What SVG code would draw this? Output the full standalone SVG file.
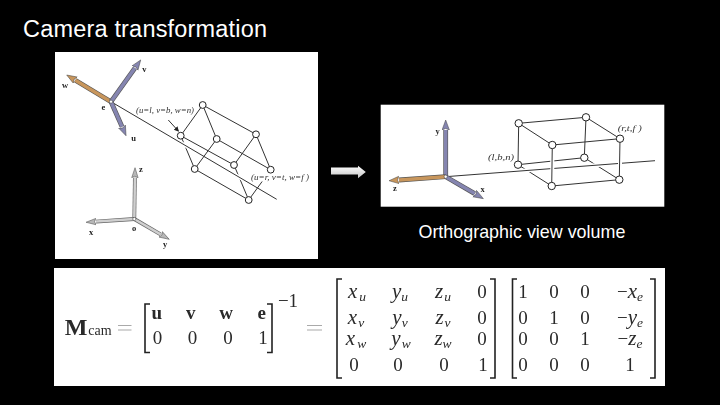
<svg xmlns="http://www.w3.org/2000/svg" width="720" height="405" viewBox="0 0 720 405">
<style>
.title{font-family:"Liberation Sans",Arial,sans-serif;fill:#fff}
.lab{font-family:"Liberation Serif","Times New Roman",serif;fill:#333;font-size:8.5px}
.ax{font-family:"Liberation Serif","Times New Roman",serif;fill:#222;font-size:8.5px;font-weight:bold;text-anchor:middle}
.m{font-family:"Liberation Serif","Times New Roman",serif;fill:#2a2a2a;font-size:19px;text-anchor:middle}
.i{font-style:italic;font-size:21px}
.b{font-weight:bold}
.s{font-size:13.5px;font-style:italic}
.e{stroke:#333;stroke-width:1;fill:none}
.h{stroke:#fff;stroke-width:4;fill:none}
.n{fill:#fff;stroke:#222;stroke-width:1}
.br{fill:none;stroke:#222;stroke-width:1.6}
.eq{stroke:#aaa;stroke-width:1.1;fill:none}
.out{stroke:#555;stroke-width:4.8;fill:none}
.pu{stroke:#8585b0;stroke-width:3.5}
.or{stroke:#c8965c;stroke-width:3.5}
.gout{stroke:#666;stroke-width:3.8;fill:none}
.gr{stroke:#cfcfcf;stroke-width:2.5}
</style>
<defs>
<filter id="soft" x="-5%" y="-5%" width="110%" height="110%"><feGaussianBlur stdDeviation="0.45"/></filter>
<marker id="hp" markerUnits="userSpaceOnUse" markerWidth="12" markerHeight="10" refX="0" refY="4" orient="auto"><path d="M0,0.3L10,4L0,7.7L1.5,4Z" fill="#8585b0" stroke="#444" stroke-width=".5"/></marker>
<marker id="ho" markerUnits="userSpaceOnUse" markerWidth="12" markerHeight="10" refX="0" refY="4" orient="auto"><path d="M0,0.3L10,4L0,7.7L1.5,4Z" fill="#c8965c" stroke="#444" stroke-width=".5"/></marker>
<marker id="hg" markerUnits="userSpaceOnUse" markerWidth="12" markerHeight="10" refX="0" refY="4" orient="auto"><path d="M0,0.8L10,4L0,7.2L1.5,4Z" fill="#b8b8b8" stroke="#444" stroke-width=".5"/></marker>
<marker id="hs" markerUnits="userSpaceOnUse" markerWidth="6" markerHeight="6" refX="4" refY="2.5" orient="auto"><path d="M0,0L5,2.5L0,5Z" fill="#222"/></marker>
<linearGradient id="ga" x1="0" y1="0" x2="0" y2="1"><stop offset="0" stop-color="#fff"/><stop offset="1" stop-color="#c4c4c4"/></linearGradient>
</defs>
<rect width="720" height="405" fill="#000"/>
<g id="title"><text class="title" x="23" y="36.7" font-size="23.5" textLength="244">Camera transformation</text></g>

<g id="panel-camera" filter="url(#soft)">
<rect x="55" y="52" width="263" height="207" fill="#fff"/>
<g id="connectors-camera">
<path class="e" d="M180.7,135.7L194.7,169M234,165L248.7,200"/>
<path class="h" d="M116,104.6L276.7,199.3" stroke-width="3.5"/>
<path class="e" d="M111,101.7L276.7,199.3"/>
<path class="e" d="M180.7,135.7L202.7,105L216.7,139L194.7,169"/>
<path class="e" d="M234,165L256,134.3L270.7,169.7L248.7,200"/>
<path class="e" d="M180.7,135.7L234,165M202.7,105L256,134.3M216.7,139L270.7,169.7M194.7,169L248.7,200"/>
<line class="e" x1="168.3" y1="120" x2="178.3" y2="131" marker-end="url(#hs)"/>
<line class="out" x1="111" y1="101.7" x2="75.3" y2="80.2"/>
<line class="or" x1="111" y1="101.7" x2="75.3" y2="80.2" marker-end="url(#ho)"/>
<line class="out" x1="111" y1="101.7" x2="134.9" y2="68.1"/>
<line class="pu" x1="111" y1="101.7" x2="134.9" y2="68.1" marker-end="url(#hp)"/>
<line class="out" x1="111" y1="101.7" x2="122" y2="126.6"/>
<line class="pu" x1="111" y1="101.7" x2="122" y2="126.6" marker-end="url(#hp)"/>
<line class="gout" x1="134.3" y1="219" x2="134.9" y2="177.7"/>
<line class="gr" x1="134.3" y1="219" x2="134.9" y2="177.7" marker-end="url(#hg)"/>
<line class="gout" x1="134.3" y1="219" x2="96" y2="221.6"/>
<line class="gr" x1="134.3" y1="219" x2="96" y2="221.6" marker-end="url(#hg)"/>
<line class="gout" x1="134.3" y1="219" x2="160.6" y2="234.3"/>
<line class="gr" x1="134.3" y1="219" x2="160.6" y2="234.3" marker-end="url(#hg)"/>
</g>
<rect x="250.5" y="172.5" width="59" height="9" fill="#fff"/>
<g id="nodes-camera">
<circle class="n" cx="202.7" cy="105" r="3.4"/>
<circle class="n" cx="180.7" cy="135.7" r="3.4"/>
<circle class="n" cx="216.7" cy="139" r="3.4"/>
<circle class="n" cx="256" cy="134.3" r="3.4"/>
<circle class="n" cx="234" cy="165" r="3.4"/>
<circle class="n" cx="194.7" cy="169" r="3.4"/>
<circle class="n" cx="270.7" cy="169.7" r="3.4"/>
<circle class="n" cx="248.7" cy="200" r="3.4"/>
<circle cx="111" cy="101.7" r="1.6" fill="#fff" stroke="#333" stroke-width=".5"/>
<circle cx="134.3" cy="219" r="1.6" fill="#fff" stroke="#333" stroke-width=".5"/>
</g>
<text class="ax" x="65" y="87.5">w</text>
<text class="ax" x="144.3" y="72">v</text>
<text class="ax" x="133.5" y="140.5">u</text>
<text class="ax" x="103.5" y="109.5">e</text>
<text class="ax" x="141" y="172">z</text>
<text class="ax" x="91" y="235">x</text>
<text class="ax" x="134" y="231">o</text>
<text class="ax" x="165" y="247">y</text>
<text class="lab" font-style="italic" x="136" y="113" textLength="58" lengthAdjust="spacingAndGlyphs">(u=l, v=b, w=n)</text>
<text class="lab" font-style="italic" x="251" y="180" textLength="58" lengthAdjust="spacingAndGlyphs">(u=r, v=t, w=f )</text>
</g>

<g id="arrow"><path d="M331,167.6H358V165.7L365.8,172L358,178.2V174.6H331Z" fill="url(#ga)"/></g>

<g id="panel-ortho" filter="url(#soft)">
<rect x="380.7" y="104.7" width="283.6" height="102" fill="#fff"/>
<g id="connectors-ortho">
<path class="e" d="M518,164.7L584.3,157.7M518,164.7L551.7,186M584.3,157.7L619.3,179.7M518.7,123.3L518,164.7M586,117.3L584.3,157.7"/>
<path class="h" d="M452,176.2L655,160.7"/>
<path class="e" d="M445.7,176.7L655,160.7"/>
<path class="h" d="M552.3,148V183M620,142V176" stroke-width="3"/>
<path class="e" d="M518.7,123.3L586,117.3L620,138.7L552.3,145Z"/>
<path class="e" d="M551.7,186L619.3,179.7"/>
<path class="e" d="M620,138.7L619.3,179.7M552.3,145L551.7,186"/>
<line class="out" x1="445.7" y1="176.7" x2="445.7" y2="130"/>
<line class="pu" x1="445.7" y1="176.7" x2="445.7" y2="130" marker-end="url(#hp)"/>
<line class="out" x1="445.7" y1="176.7" x2="399" y2="180"/>
<line class="or" x1="445.7" y1="176.7" x2="399" y2="180" marker-end="url(#ho)"/>
<line class="out" x1="445.7" y1="176.7" x2="474.7" y2="193.6"/>
<line class="pu" x1="445.7" y1="176.7" x2="474.7" y2="193.6" marker-end="url(#hp)"/>
</g>
<g id="nodes-ortho">
<circle class="n" cx="518.7" cy="123.3" r="3.7"/>
<circle class="n" cx="586" cy="117.3" r="3.7"/>
<circle class="n" cx="552.3" cy="145" r="3.7"/>
<circle class="n" cx="620" cy="138.7" r="3.7"/>
<circle class="n" cx="518" cy="164.7" r="3.7"/>
<circle class="n" cx="584.3" cy="157.7" r="3.7"/>
<circle class="n" cx="551.7" cy="186" r="3.7"/>
<circle class="n" cx="619.3" cy="179.7" r="3.7"/>
<circle cx="445.7" cy="176.7" r="1.6" fill="#fff" stroke="#333" stroke-width=".5"/>
</g>
<text class="ax" x="437.7" y="134">y</text>
<text class="ax" x="395" y="191">z</text>
<text class="ax" x="482.7" y="192">x</text>
<text class="lab" font-style="italic" x="488" y="160" textLength="26" lengthAdjust="spacingAndGlyphs">(l,b,n)</text>
<text class="lab" font-style="italic" x="617.7" y="131" textLength="24" lengthAdjust="spacingAndGlyphs">(r,t,f )</text>
</g>
<g id="caption"><text class="title" x="418.5" y="238" font-size="17.9">Orthographic view volume</text></g>

<g id="equation" filter="url(#soft)">
<rect x="54" y="268" width="611" height="118" fill="#fff"/>
<text class="m b" x="76" y="335" style="font-size:24px">M</text>
<text class="m" x="100" y="335" style="font-size:14px">cam</text>
<path class="eq" d="M118,325.5H131.5M118,330H131.5M307,325.5H322M307,330H322"/>
<path class="br" d="M150,304H145V352.5H150M267,304H272V352.5H267"/>
<path class="br" d="M342,279H337V378H342M490,279H495V378H490M517,279H512.5V378H517M650,279H655V378H650"/>
<text class="m b" x="156.7" y="318.5">u</text>
<text class="m b" x="190.7" y="318.5">v</text>
<text class="m b" x="226" y="318.5">w</text>
<text class="m b" x="261.7" y="318.5">e</text>
<text class="m" x="157.5" y="343.5">0</text>
<text class="m" x="192.5" y="343.5">0</text>
<text class="m" x="228" y="343.5">0</text>
<text class="m" x="263" y="343.5">1</text>
<text class="m" x="288" y="307">−1</text>

<text class="m" x="357" y="298"><tspan class="i">x</tspan><tspan class="s" dy="3" dx="2">u</tspan></text>
<text class="m" x="400" y="298"><tspan class="i">y</tspan><tspan class="s" dy="3">u</tspan></text>
<text class="m" x="443" y="298"><tspan class="i">z</tspan><tspan class="s" dy="3" dx="1">u</tspan></text>
<text class="m" x="482" y="298">0</text>
<text class="m" x="356" y="324"><tspan class="i">x</tspan><tspan class="s" dy="3" dx="1">v</tspan></text>
<text class="m" x="400" y="324"><tspan class="i">y</tspan><tspan class="s" dy="3">v</tspan></text>
<text class="m" x="443" y="324"><tspan class="i">z</tspan><tspan class="s" dy="3" dx="1">v</tspan></text>
<text class="m" x="482" y="324">0</text>
<text class="m" x="356" y="345"><tspan class="i">x</tspan><tspan class="s" dy="3" dx="2">w</tspan></text>
<text class="m" x="401" y="345"><tspan class="i">y</tspan><tspan class="s" dy="3" dx="1">w</tspan></text>
<text class="m" x="443" y="345"><tspan class="i">z</tspan><tspan class="s" dy="3">w</tspan></text>
<text class="m" x="482" y="345">0</text>
<text class="m" x="354" y="371">0</text>
<text class="m" x="398" y="371">0</text>
<text class="m" x="444" y="371">0</text>
<text class="m" x="483" y="371">1</text>

<text class="m" x="523" y="298">1</text><text class="m" x="554" y="298">0</text><text class="m" x="585" y="298">0</text>
<text class="m" x="630" y="298">−<tspan class="i">x</tspan><tspan class="s" dy="3">e</tspan></text>
<text class="m" x="523" y="324">0</text><text class="m" x="554" y="324">1</text><text class="m" x="585" y="324">0</text>
<text class="m" x="630" y="324">−<tspan class="i">y</tspan><tspan class="s" dy="3">e</tspan></text>
<text class="m" x="523" y="345">0</text><text class="m" x="554" y="345">0</text><text class="m" x="585" y="345">1</text>
<text class="m" x="630" y="345">−<tspan class="i">z</tspan><tspan class="s" dy="3">e</tspan></text>
<text class="m" x="523" y="371">0</text><text class="m" x="554" y="371">0</text><text class="m" x="585" y="371">0</text>
<text class="m" x="630" y="371">1</text>
</g>
</svg>
